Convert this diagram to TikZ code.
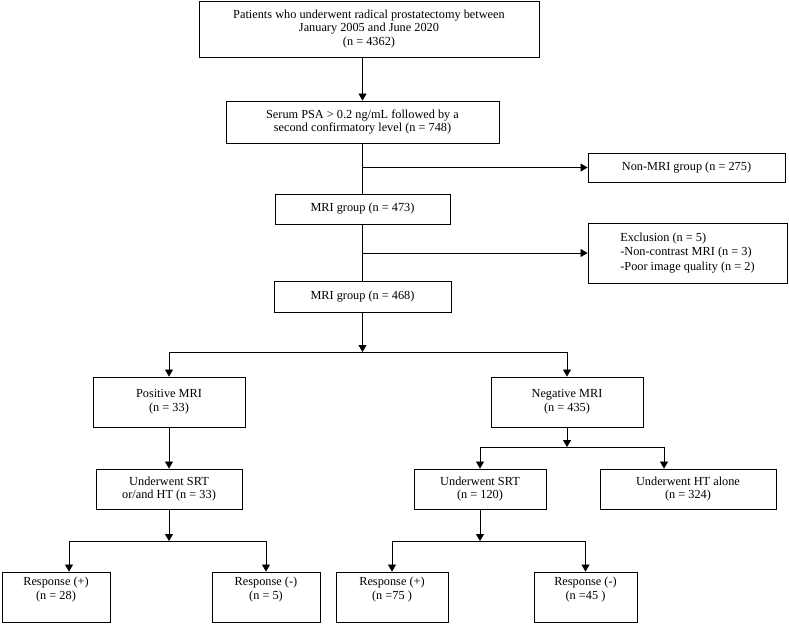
\documentclass[tikz,border=0pt]{standalone}
\usepackage{fontspec}
\setmainfont{Liberation Serif}
\usetikzlibrary{arrows.meta,positioning}
\newcommand{\Resp}[1]{\parbox[c][40pt][t]{96pt}{\centering #1}}

\begin{document}
\begin{tikzpicture}[x=1pt,y=-1pt,
    box/.style={rectangle,draw,line width=0.9pt,align=center,inner sep=2pt,
      font=\fontsize{12.3}{13.8}\selectfont},
    link/.style={line width=0.8pt},
    arr/.style={line width=0.8pt,-{Triangle[length=7pt,width=8pt]}}]
    \useasboundingbox (0,0) rectangle (789,624);

    % Cohort and selection
    \node[box,minimum width=340pt,minimum height=56pt] (all) at (369,29) {Patients who underwent radical prostatectomy between\\January 2005 and June 2020\\(n = 4362)};
    \node[box,minimum width=273pt,minimum height=42pt] (psa) at (362.5,122) {Serum PSA > 0.2 ng/mL followed by a\\second confirmatory level (n = 748)};
    \node[box,minimum width=197pt,minimum height=29pt] (nonmri) at (686.5,167.5) {Non-MRI group (n = 275)};
    \node[box,minimum width=175pt,minimum height=30pt] (mri1) at (362.5,209) {MRI group (n = 473)};
    \node[box,align=left,minimum width=199pt,minimum height=60pt,font=\fontsize{12.3}{14.3}\selectfont] (excl) at (687.5,253) {Exclusion (n = 5)\\-Non-contrast MRI (n = 3)\\-Poor image quality (n = 2)};
    \node[box,minimum width=177pt,minimum height=31pt] (mri2) at (362.5,296.5) {MRI group (n = 468)};

    \draw[arr] (all.south -| psa.north) -- (psa.north);
    \draw[link] (psa.south) -- (mri1.north);
    \draw[arr] (psa.south |- nonmri.west) -- (nonmri.west);
    \draw[link] (mri1.south) -- (mri2.north);
    \draw[arr] (mri1.south |- excl.west) -- (excl.west);

    % MRI result
    \node[box,minimum width=152pt,minimum height=50pt] (pos) at (169,402) {Positive MRI\\(n = 33)};
    \node[box,minimum width=152pt,minimum height=50pt] (neg) at (567,402) {Negative MRI\\(n = 435)};

    \coordinate (split1) at (362.5,352);
    \draw[arr] (mri2.south) -- (split1);
    \draw[link] (pos.north |- split1) -- (neg.north |- split1);
    \draw[arr] (pos.north |- split1) -- (pos.north);
    \draw[arr] (neg.north |- split1) -- (neg.north);

    % Treatment
    \node[box,minimum width=146pt,minimum height=40pt] (srtht) at (169,489) {Underwent SRT\\or/and HT (n = 33)};
    \node[box,minimum width=132pt,minimum height=40pt] (srt) at (480,489) {Underwent SRT\\(n = 120)};
    \node[box,minimum width=176pt,minimum height=40pt] (htonly) at (688,489) {Underwent HT alone\\(n = 324)};

    \draw[arr] (pos.south) -- (srtht.north);
    \coordinate (split2) at (567,447);
    \coordinate (split2r) at (664,447);
    \draw[arr] (neg.south) -- (split2);
    \draw[link] (srt.north |- split2) -- (split2r);
    \draw[arr] (srt.north |- split2) -- (srt.north);
    \draw[arr] (split2r) -- (split2r |- htonly.north);

    % Response
    \node[box,minimum width=108pt,minimum height=50pt] (r1) at (56,597) {\Resp{Response (+)\\(n = 28)}};
    \node[box,minimum width=108pt,minimum height=50pt] (r2) at (266,597) {\Resp{Response (-)\\(n = 5)}};
    \node[box,minimum width=112pt,minimum height=50pt] (r3) at (392,597) {\Resp{Response (+)\\(n =75 )}};
    \node[box,minimum width=103pt,minimum height=50pt] (r4) at (585.5,597) {\Resp{Response (-)\\(n =45 )}};

    \coordinate (split3) at (169,541);
    \coordinate (split3l) at (69,541);
    \draw[arr] (srtht.south) -- (split3);
    \draw[link] (split3l) -- (r2.north |- split3);
    \draw[arr] (split3l) -- (split3l |- r1.north);
    \draw[arr] (r2.north |- split3) -- (r2.north);

    \coordinate (split4) at (480,541);
    \draw[arr] (srt.south) -- (split4);
    \draw[link] (r3.north |- split4) -- (r4.north |- split4);
    \draw[arr] (r3.north |- split4) -- (r3.north);
    \draw[arr] (r4.north |- split4) -- (r4.north);
\end{tikzpicture}
\end{document}
